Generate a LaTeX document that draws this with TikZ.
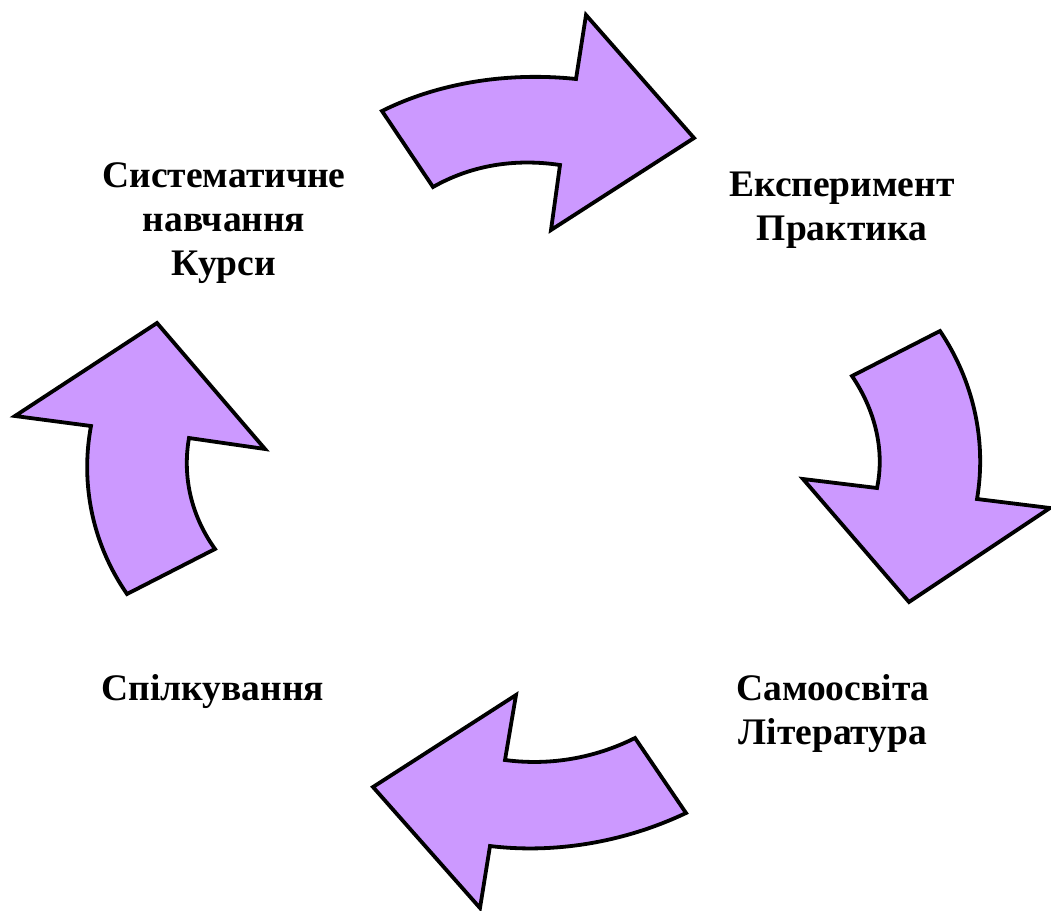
\documentclass[tikz,border=0pt]{standalone}
\usepackage{fontspec}
\setmainfont{Liberation Serif}
\begin{document}
\begin{tikzpicture}[x=1pt,y=-1pt,
  cyclearrow/.style={draw=black,line width=3.8pt,fill=arrowfill,line join=miter,miter limit=10},
  lbl/.style={font=\fontsize{37.5}{44}\selectfont\bfseries,align=center,inner sep=0pt,text=black}]
\definecolor{arrowfill}{HTML}{CC99FF}
\useasboundingbox (0,0) rectangle (1051,910);
\path[cyclearrow] (382,111) .. controls (440,82) and (510,72) .. (576,79) -- (586,15) -- (694,138) -- (551,230) -- (560,165) .. controls (513,158) and (470,166) .. (433,187) -- cycle;
\path[cyclearrow] (940,331) .. controls (973,380) and (987,440) .. (977,499) -- (1050,508) -- (909,602) -- (803,479) -- (877,488) .. controls (885,450) and (875,410) .. (852,376) -- cycle;
\path[cyclearrow] (686,813) .. controls (625,842) and (555,854) .. (490,846) -- (480,908) -- (373,787) -- (516,695) -- (505,760) .. controls (550,766) and (595,758) .. (635,738) -- cycle;
\path[cyclearrow] (127,594) .. controls (93,545) and (80,485) .. (91,426) -- (15,416) -- (157,323) -- (265,449) -- (189,438) .. controls (182,478) and (192,517) .. (215,549) -- cycle;
\node[lbl] (a) at (224,223) {Систематичне\\навчання\\Курси};
\node[lbl] (b) at (842,210) {Експеримент\\Практика};
\node[lbl] (c) at (833,714) {Самоосвіта\\Література};
\node[lbl] (d) at (213,692) {Спілкування};
\end{tikzpicture}
\end{document}
